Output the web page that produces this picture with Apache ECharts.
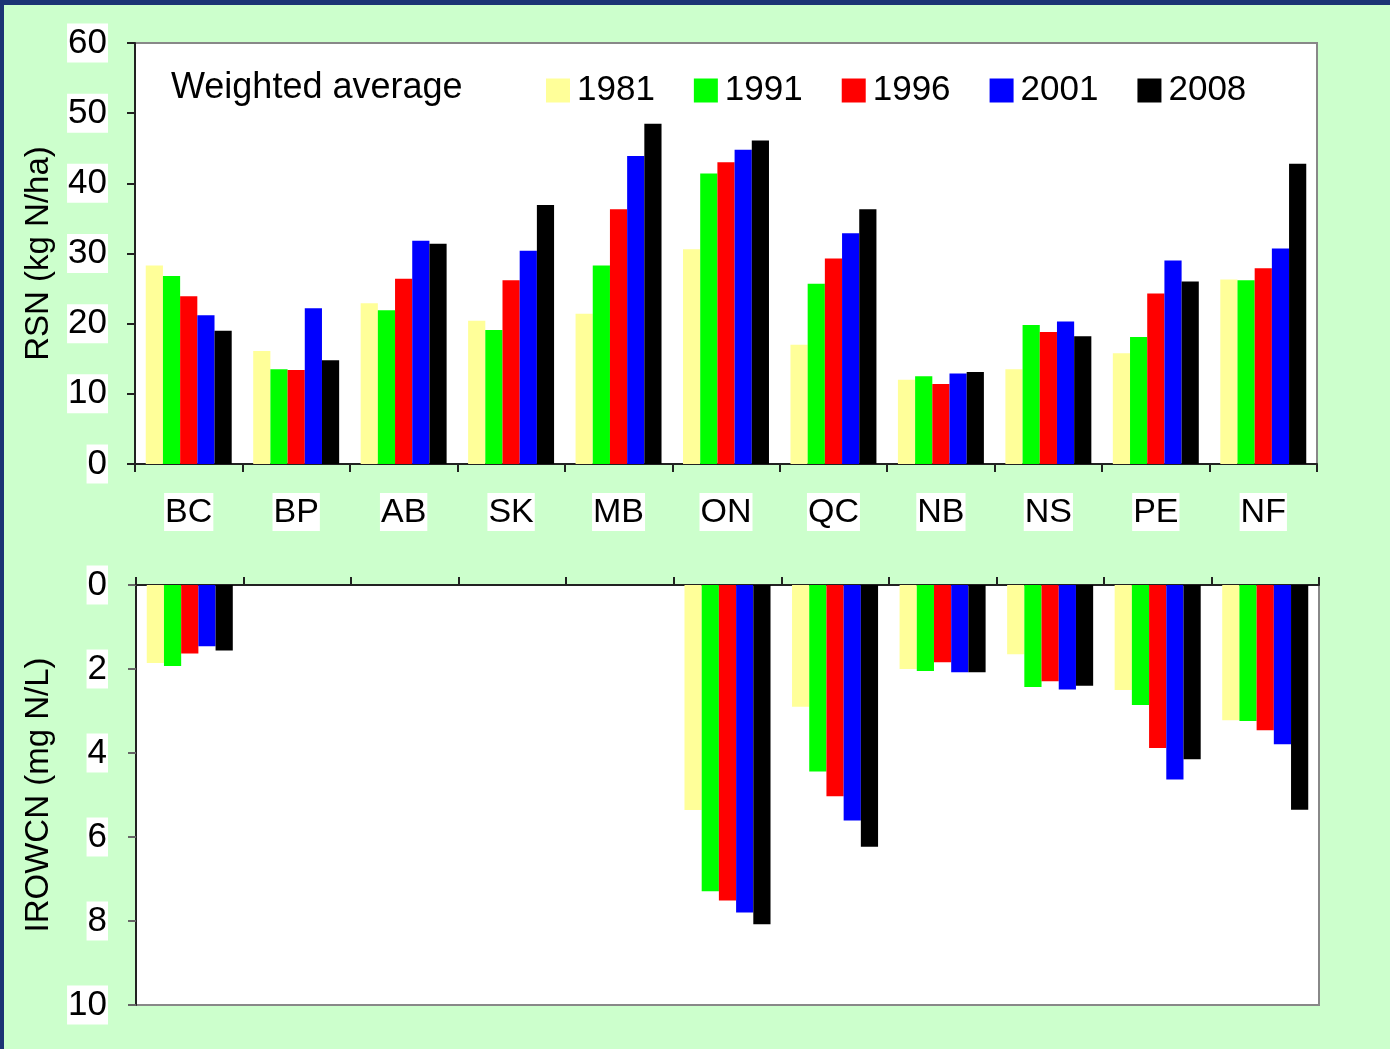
<!DOCTYPE html>
<html>
<head>
<meta charset="utf-8">
<script src="https://cdn.jsdelivr.net/npm/echarts@6/dist/echarts.min.js"></script>
<style>
  html, body { margin: 0; padding: 0; background: #1b3474; }
  #bg { position: absolute; left: 4px; top: 5px; right: 0; bottom: 0; background: #ccffcc; }
  #main { position: absolute; left: 0; top: 0; width: 1390px; height: 1049px; }
</style>
</head>
<body>
<div id="bg"></div>
<div id="main"></div>
<script>
// provinces
var provinces = ['BC', 'BP', 'AB', 'SK', 'MB', 'ON', 'QC', 'NB', 'NS', 'PE', 'NF'];
var years = ['1981', '1991', '1996', '2001', '2008'];
var yearColors = ['#ffff99', '#00ff00', '#ff0000', '#0000ff', '#000000'];

// RSN (kg N/ha), one array per year
var rsn1981 = [28.3, 16.1, 22.9, 20.4, 21.4, 30.6, 17.0, 12.0, 13.5, 15.8, 26.3];
var rsn1991 = [26.8, 13.5, 21.9, 19.1, 28.3, 41.4, 25.7, 12.5, 19.8, 18.1, 26.2];
var rsn1996 = [23.9, 13.4, 26.4, 26.2, 36.3, 43.0, 29.3, 11.4, 18.8, 24.3, 27.9];
var rsn2001 = [21.2, 22.2, 31.8, 30.4, 43.9, 44.8, 32.9, 12.9, 20.3, 29.0, 30.7];
var rsn2008 = [19.0, 14.8, 31.4, 36.9, 48.5, 46.1, 36.3, 13.1, 18.2, 26.0, 42.8];

// IROWCN (mg N/L), null = no value
var irow1981 = [1.86, null, null, null, null, 5.36, 2.90, 2.00, 1.65, 2.50, 3.22];
var irow1991 = [1.93, null, null, null, null, 7.29, 4.44, 2.05, 2.43, 2.86, 3.24];
var irow1996 = [1.63, null, null, null, null, 7.51, 5.03, 1.84, 2.29, 3.88, 3.46];
var irow2001 = [1.46, null, null, null, null, 7.80, 5.61, 2.08, 2.49, 4.63, 3.79];
var irow2008 = [1.56, null, null, null, null, 8.08, 6.23, 2.08, 2.40, 4.15, 5.35];

var rsnData = [rsn1981, rsn1991, rsn1996, rsn2001, rsn2008];
var irowData = [irow1981, irow1991, irow1996, irow2001, irow2008];

var FONT = 'Arial, "Liberation Sans", sans-serif';
var tickLabel = {
  color: '#000',
  fontFamily: FONT,
  fontSize: 35,
  backgroundColor: '#fff',
  padding: [3, 1, 1, 1]
};

var myChart = echarts.init(document.getElementById('main'));

var series = [];
years.forEach(function (y, i) {
  series.push({
    name: y,
    type: 'bar',
    xAxisIndex: 0,
    yAxisIndex: 0,
    data: rsnData[i],
    barGap: '0%',
    barCategoryGap: '20%',
    itemStyle: { color: yearColors[i] },
    animation: false
  });
});
years.forEach(function (y, i) {
  series.push({
    name: y,
    type: 'bar',
    xAxisIndex: 1,
    yAxisIndex: 1,
    data: irowData[i],
    barGap: '0%',
    barCategoryGap: '20%',
    itemStyle: { color: yearColors[i] },
    animation: false
  });
});

myChart.setOption({
  animation: false,
  title: {
    text: 'Weighted average',
    left: 166,
    top: 65,
    textStyle: { color: '#000', fontFamily: FONT, fontSize: 36, fontWeight: 'normal' }
  },
  legend: {
    data: years,
    left: 541,
    top: 68,
    icon: 'rect',
    itemWidth: 24,
    itemHeight: 24,
    itemGap: 39,
    textStyle: { color: '#000', fontFamily: FONT, fontSize: 35, padding: [0, 0, 0, 2] }
  },
  grid: [
    { left: 135, right: 73, top: 43, height: 421, show: true, backgroundColor: '#fff', borderColor: '#888', borderWidth: 2 },
    { left: 136, right: 71, top: 585, height: 420, show: true, backgroundColor: '#fff', borderColor: '#888', borderWidth: 2 }
  ],
  xAxis: [
    {
      type: 'category',
      gridIndex: 0,
      data: provinces,
      axisLine: { lineStyle: { color: '#222', width: 2 } },
      axisTick: { show: true, length: 8, lineStyle: { color: '#222', width: 2 } },
      axisLabel: Object.assign({}, tickLabel, { fontSize: 34, margin: 29, interval: 0 })
    },
    {
      type: 'category',
      gridIndex: 1,
      position: 'top',
      data: provinces,
      axisLine: { lineStyle: { color: '#222', width: 2 } },
      axisTick: { show: true, length: 8, lineStyle: { color: '#222', width: 2 } },
      axisLabel: { show: false }
    }
  ],
  yAxis: [
    {
      type: 'value',
      gridIndex: 0,
      min: 0,
      max: 60,
      interval: 10,
      name: 'RSN (kg N/ha)',
      nameLocation: 'middle',
      nameGap: 80,
      nameTextStyle: { color: '#000', fontFamily: FONT, fontSize: 33 },
      axisLine: { show: true, lineStyle: { color: '#222', width: 2 } },
      axisTick: { show: true, length: 8, lineStyle: { color: '#222', width: 2 } },
      splitLine: { show: false },
      axisLabel: Object.assign({}, tickLabel, { margin: 27 })
    },
    {
      type: 'value',
      gridIndex: 1,
      inverse: true,
      min: 0,
      max: 10,
      interval: 2,
      name: 'IROWCN (mg N/L)',
      nameLocation: 'middle',
      nameGap: 81,
      nameTextStyle: { color: '#000', fontFamily: FONT, fontSize: 33 },
      axisLine: { show: true, lineStyle: { color: '#222', width: 2 } },
      axisTick: { show: true, length: 8, lineStyle: { color: '#666', width: 2 } },
      splitLine: { show: false },
      axisLabel: Object.assign({}, tickLabel, { margin: 28 })
    }
  ],
  series: series
});
</script>
</body>
</html>
